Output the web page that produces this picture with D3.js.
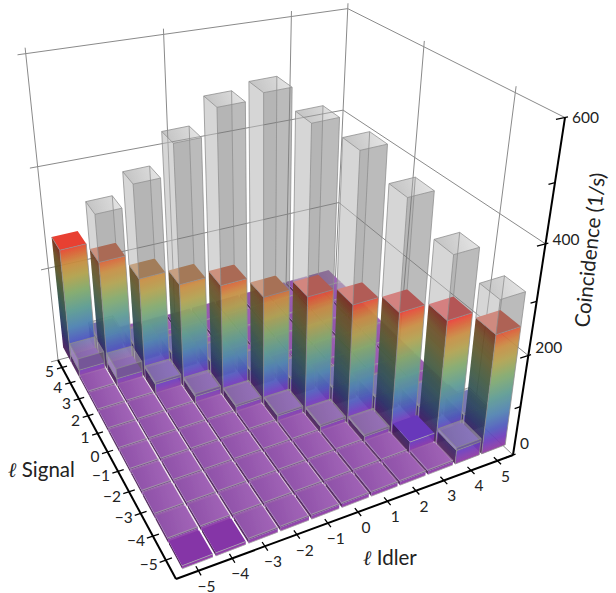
<!DOCTYPE html>
<html><head><meta charset="utf-8">
<script src="https://cdnjs.cloudflare.com/ajax/libs/d3/7.8.5/d3.min.js"></script>
<style>html,body{margin:0;background:#fff;overflow:hidden}svg{display:block}text{font-family:Lato,"Open Sans",sans-serif;fill:#222}</style>
</head><body><svg id="c" width="616" height="593"></svg>
<script>
const idlerValues=[-5,-4,-3,-2,-1,0,1,2,3,4,5];
const signalValues=[5,4,3,2,1,0,-1,-2,-3,-4,-5];
const zTicks=[0,100,200,300,400,500,600];
const zLabels=[0,200,400,600];
const measured=[
[240,35,10,9,8,8,8,8,8,8,8],
[18,230,38,10,8,8,8,8,8,8,8],
[7,18,212,38,10,8,8,8,8,8,8],
[7,7,25,216,38,10,8,8,8,8,8],
[7,7,7,18,230,38,12,8,8,8,8],
[7,7,7,7,16,223,38,12,8,8,8],
[7,7,7,7,7,16,240,38,12,8,8],
[7,7,7,7,7,7,14,241,38,12,8],
[7,7,7,7,7,7,7,14,243,38,12],
[7,7,7,7,7,7,7,7,24,245,40],
[6,6,7,7,7,7,7,7,7,28,236]];
const reference=[
[200,40,12,10,9,9,9,9,9,9,9],
[43,325,42,12,10,10,10,10,10,10,10],
[10,40,395,42,12,10,10,10,10,10,10],
[10,10,30,480,42,12,10,10,10,10,10],
[10,10,10,24,552,42,14,10,10,10,10],
[10,10,10,10,20,586,42,14,10,10,10],
[10,10,10,10,10,20,547,42,14,10,10],
[10,10,10,10,10,10,18,514,42,14,10],
[10,10,10,10,10,10,10,18,448,42,14],
[10,10,10,10,10,10,10,10,14,364,44],
[4,4,10,10,10,10,10,10,10,34,300]];
const wallIdler=[-1.2,3.4];
const wallSignal=[0.8,-3.7];
const colorStops=[0,22,44,75,110,148,180,208,230,245];
const colorRange=["#8f33a0","#6a35bb","#4a55bd","#4b80b0","#5a9a90","#80a868","#b0a04a","#c88a3c","#db5a30","#ee3333"];
const domI=[-5.65,5.6],domS=[-5.75,5.5];

const su=d3.scaleLinear().domain(domI).range([0,1]);
const sv=d3.scaleLinear().domain(domS).range([0,1]);
const sw=d3.scaleLinear().domain([0,600]).range([0,1]);
const color=d3.scaleLinear().domain(colorStops).range(colorRange).clamp(true);

function gauss(A,b){const n=b.length,M=A.map((r,i)=>[...r,b[i]]);
 for(let c=0;c<n;c++){let p=c;for(let r=c+1;r<n;r++)if(Math.abs(M[r][c])>Math.abs(M[p][c]))p=r;[M[c],M[p]]=[M[p],M[c]];
  for(let r=0;r<n;r++)if(r!==c){const f=M[r][c]/M[c][c];for(let k=c;k<=n;k++)M[r][k]-=f*M[c][k];}}
 return M.map((r,i)=>r[n]/r[i]);}
function lsq(R,r){const RT=R[0].map((_,c)=>R.map(q=>q[c]));
 const N=RT.map(q=>RT.map(p=>d3.sum(q,(x,i)=>x*p[i])));
 return gauss(N,RT.map(q=>d3.sum(q,(x,i)=>x*r[i])));}
const floorPts=[[0,0,176,579],[1,0,513,455],[0,1,58,360],[1,1,335,287]];
const topPts=[[1,0,567,114],[0,1,26,54],[1,1,346,11]];
const A8=[],b8=[];
floorPts.forEach(([u,v,X,Y])=>{A8.push([u,v,1,0,0,0,-X*u,-X*v]);b8.push(X);A8.push([0,0,0,u,v,1,-Y*u,-Y*v]);b8.push(Y);});
const [a,b,d,e,f,k,g,h]=gauss(A8,b8);
const R=[],r=[];
topPts.forEach(([u,v,X,Y])=>{const W=g*u+h*v+1;R.push([1,0,-X]);r.push(X*W-(a*u+b*v+d));R.push([0,1,-Y]);r.push(Y*W-(e*u+f*v+k));});
const [cz,fz,jz]=lsq(R,r);
function P(i,s,z){const u=su(i),v=sv(s),w=sw(z),W=g*u+h*v+jz*w+1;
 return [(a*u+b*v+d+cz*w)/W,(e*u+f*v+k+fz*w)/W];}
// bar projection, fitted to corners of bars in the picture: idler, signal, z, x, y
const barAnchors=[
[4.53,-5.47,0,481.7,454.3],[5.47,-5.47,0,504,446.7],[4.53,-5.47,236,497,331.7],[5.47,-5.47,236,521.7,326],
[4.53,-4.53,236,475,320],[5.47,-4.53,236,493,311],
[-5.47,4.53,240,58.3,251],[-4.53,4.53,240,85,245],[-5.47,5.47,240,51,240],[-4.53,5.47,240,77.3,233],
[-5.47,-5.47,7,181.7,564],[-4.53,-5.47,7,212.3,552.7],[-5.47,-4.53,7,168.3,539.3],[-4.53,-4.53,7,200,530],
[-4.47,-5.47,7,215,551],[-3.53,-5.47,7,245,540],[-4.47,-4.53,7,202.7,529.3],[-3.53,-4.53,7,231.7,519],
[-5.47,-4.47,7,166.7,538.3],[-4.53,-4.47,7,198.3,528],[-5.47,-3.53,7,155,518],[-4.53,-3.53,7,186,508],
[2.53,-4.53,7,410,455],[2.53,-5.47,7,426.7,475],[3.47,-5.47,7,452.3,464.3],[3.47,-4.53,7,433.3,446.7],
[-5.47,3.53,0,81,381.7],[-4.53,3.53,0,106,373.3],[-5.47,4.53,0,71,361],
[-1.47,0.53,0,223.3,391.7],[-0.47,-0.47,0,264,401.7],[0.47,-0.47,0,289.3,392.3],[0.53,-1.47,0,306,412.7],[1.53,-2.47,0,348,425],
[-0.47,-0.47,223,263.3,292.7],[0.47,-0.47,223,288.3,286],[-0.47,0.47,223,251.7,280.7],[0.47,0.47,223,275,273.3],
[0.53,-1.47,240,308.3,294],[1.47,-1.47,240,334,288.3],[0.53,-0.53,240,293.3,280.7],[1.47,-0.53,240,320,274.3],
[1.53,-2.47,241,353.3,304.3],[2.47,-2.47,241,379,298.3],[1.53,-1.53,241,338.3,291],[2.47,-1.53,241,365,284.3],
[-4.47,3.53,325,93.3,215],[-3.47,2.53,395,131,182],[-2.47,1.53,480,171.7,142.7],[-1.47,0.53,552,215.7,108.7],[-0.47,-0.47,586,263.3,95],
[0.53,-1.47,547,311.7,125],[1.53,-2.47,514,361,152.7],[2.53,-3.47,448,409,198.3],[3.53,-4.47,364,454,253],[4.53,-5.47,300,501.7,296.7]];
const DL=[],Dr=[];
barAnchors.forEach(([i,s,z,X,Y])=>{const x=i/5,y=s/5,q=z/300,U=X/300,V=Y/300;
 DL.push([x,y,q,1,0,0,0,0,-U*x,-U*y,-U*q]);Dr.push(U);
 DL.push([0,0,0,0,x,y,q,1,-V*x,-V*y,-V*q]);Dr.push(V);});
const Bm=lsq(DL,Dr);
function PB(i,s,z){const x=i/5,y=s/5,q=z/300,W=Bm[8]*x+Bm[9]*y+Bm[10]*q+1;
 return [300*(Bm[0]*x+Bm[1]*y+Bm[2]*q+Bm[3])/W,300*(Bm[4]*x+Bm[5]*y+Bm[6]*q+Bm[7])/W];}

const svg=d3.select("#c"),defs=svg.append("defs");
defs.append("filter").attr("id","soft").attr("x",0).attr("y",0).attr("filterUnits","userSpaceOnUse")
 .attr("width",616).attr("height",593).append("feGaussianBlur").attr("stdDeviation",.35);
const poly=pts=>"M"+pts.map(p=>p[0].toFixed(2)+","+p[1].toFixed(2)).join("L")+"Z";
const seg=(p,q)=>"M"+p[0].toFixed(2)+","+p[1].toFixed(2)+"L"+q[0].toFixed(2)+","+q[1].toFixed(2);
const gridCol="#8a8a8a";
const iMin=domI[0],iMax=domI[1],sMin=domS[0],sMax=domS[1];
const wall=svg.append("g").attr("fill","none").attr("stroke",gridCol).attr("stroke-width",1);
[0,200,400,600].forEach(z=>{
 wall.append("path").attr("d",seg(P(iMin-0.25,sMax,z),P(iMax,sMax,z)));
 wall.append("path").attr("d",seg(P(iMax,sMax,z),P(iMax,sMin,z)));
});
[iMin,...wallIdler,iMax].forEach(i=>wall.append("path").attr("d",seg(P(i,sMax,0),P(i,sMax,610))));
wallSignal.forEach(s=>wall.append("path").attr("d",seg(P(iMax,s,0),P(iMax,s,610))));

let gid=0;
const mkTop=(id,c0,o0,c1,o1)=>{const t=defs.append("linearGradient").attr("id",id).attr("x1",0).attr("x2",1).attr("y1",.2).attr("y2",0);
 t.append("stop").attr("offset",0).attr("stop-color",c0).attr("stop-opacity",o0);
 t.append("stop").attr("offset",1).attr("stop-color",c1).attr("stop-opacity",o1);};
mkTop("gt","#969696",.5,"#c8c8c8",.42);
mkTop("gl","#a07aa8",.42,"#d0a8d0",.46);
function faceGrad(i0,s0,i1,s1,hgt,dark){
 const A0=PB(i0,s0,0),B0=PB(i1,s1,0),T=PB(i0,s0,hgt);
 let dx=B0[0]-A0[0],dy=B0[1]-A0[1],L=Math.hypot(dx,dy);dx/=L;dy/=L;
 let nx=-dy,ny=dx;
 const len=(T[0]-A0[0])*nx+(T[1]-A0[1])*ny;
 const id="f"+(gid++);
 const gr=defs.append("linearGradient").attr("id",id).attr("gradientUnits","userSpaceOnUse")
  .attr("x1",A0[0]).attr("y1",A0[1]).attr("x2",A0[0]+nx*len).attr("y2",A0[1]+ny*len);
 const zs=[...colorStops.filter(z=>z<hgt),hgt];
 zs.forEach(z=>{const p=PB(i0,s0,z);const off=((p[0]-A0[0])*nx+(p[1]-A0[1])*ny)/len;
  const c=dark>0?d3.interpolateRgb(color(z),"#000")(dark):color(z);
  gr.append("stop").attr("offset",off).attr("stop-color",c);});
 return "url(#"+id+")";
}
const halfI=0.455,halfS=0.47;
const cols=[];
signalValues.forEach((s,ri)=>idlerValues.forEach((i,ci)=>cols.push({s,i,m:measured[ri][ci],r:reference[ri][ci]})));
cols.sort((p,q)=>d3.descending(p.s,q.s)||d3.descending(p.i,q.i));
const bars=svg.append("g").attr("filter","url(#soft)");
const addFace=(sel,pts,fill,op)=>sel.append("path").attr("d",poly(pts)).attr("fill",fill).attr("fill-opacity",op);
cols.forEach(c=>{
 const G=bars.append("g");
 const i0=c.i-halfI,i1=c.i+halfI,s0=c.s-halfS,s1=c.s+halfS;
 const box=z=>({a:PB(i0,s0,z),b:PB(i1,s0,z),c:PB(i1,s1,z),d:PB(i0,s1,z)});
 const B=box(0),M=box(c.m),T=box(Math.max(c.m,c.r));
 const hasGrey=c.r>c.m, low=c.r<16;
 if(hasGrey){
  addFace(G,[B.d,B.c,T.c,T.d],"#555",.08);
  addFace(G,[B.b,B.c,T.c,T.b],"#ddd",.05);
 }
 addFace(G,[B.a,B.d,M.d,M.a],faceGrad(i0,s0,i0,s1,c.m,.48),.94);
 addFace(G,[B.a,B.b,M.b,M.a],faceGrad(i0,s0,i1,s0,c.m,0),.94);
 addFace(G,[M.a,M.b,M.c,M.d],color(c.m),1);
 if(hasGrey){
  addFace(G,[B.a,B.d,M.d,M.a],"#c2c2c2",.06);
  addFace(G,[B.a,B.b,M.b,M.a],"#c2c2c2",.05);
  addFace(G,[M.a,M.d,T.d,T.a],"#c0c0c0",.55);
  addFace(G,[M.a,M.b,T.b,T.a],"#7a7a7a",.5);
  addFace(G,[T.a,T.b,T.c,T.d],low?"url(#gl)":"url(#gt)",1);
 }
 const ln=G.append("g").attr("fill","none").attr("stroke",low?"#a8a8a8":"#8c8c8c").attr("stroke-width",.9).attr("stroke-opacity",.85);
 const edges=low?[[T.a,T.b],[B.a,B.b]]:hasGrey?[[T.a,T.b],[T.b,T.c],[T.c,T.d],[T.d,T.a],[B.a,T.a],[B.b,T.b],[M.d,T.d],[M.c,T.c],[M.a,M.b],[M.a,M.d],[B.a,B.b]]
   :[[T.a,T.b],[T.a,T.d],[B.a,T.a],[B.b,T.b]];
 edges.forEach(q=>ln.append("path").attr("d",seg(q[0],q[1])));
});
const ax=svg.append("g").attr("stroke","#000").attr("fill","none");
ax.append("path").attr("stroke-width",2).attr("d",seg(P(iMin,sMax,0),P(iMin,sMin,0)));
ax.append("path").attr("stroke-width",2).attr("d",seg(P(iMin,sMin,0),P(iMax,sMin,0)));
ax.append("path").attr("stroke-width",2).attr("d",seg(P(iMax,sMin,0),P(iMax,sMin,600)));
const txt=svg.append("g").attr("font-size",15.5);
signalValues.forEach(s=>{
 ax.append("path").attr("stroke-width",1.3).attr("d",seg(P(iMin-.18,s,0),P(iMin+.18,s,0)));
 const p=P(iMin,s,0);
 txt.append("text").attr("x",p[0]-8).attr("y",p[1]+10).attr("text-anchor","end").text(s<0?"\u2212"+(-s):s);
});
idlerValues.forEach(i=>{
 ax.append("path").attr("stroke-width",1.3).attr("d",seg(P(i,sMin-.18,0),P(i,sMin+.18,0)));
 const p=P(i,sMin,0);
 txt.append("text").attr("x",p[0]+8).attr("y",p[1]+21).attr("text-anchor","middle").text(i<0?"\u2212"+(-i):i);
});
zTicks.forEach(z=>{
 const maj=z%200===0;
 ax.append("path").attr("stroke-width",1.3).attr("d",seg(P(iMax-(maj?.3:.22),sMin,z),P(iMax+(maj?.1:0),sMin,z)));
});
zLabels.forEach(z=>{const p=P(iMax,sMin,z);
 txt.append("text").attr("x",p[0]+7).attr("y",p[1]+5-11*(1-z/600)).text(z);});
const ttl=svg.append("g").attr("font-size",20.5);
ttl.append("text").attr("x",8).attr("y",477).html('<tspan font-style="italic" font-family="DejaVu Serif">\u2113</tspan> Signal');
ttl.append("text").attr("x",363).attr("y",565).html('<tspan font-style="italic" font-family="DejaVu Serif">\u2113</tspan> Idler');
ttl.append("text").attr("transform","translate(589,328) rotate(-84)").text("Coincidence (1/s)");
</script></body></html>
